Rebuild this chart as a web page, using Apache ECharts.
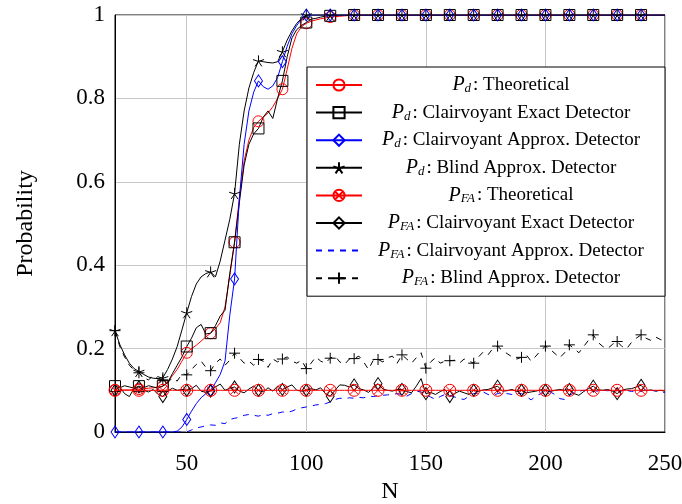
<!DOCTYPE html>
<html><head><meta charset="utf-8">
<script src="https://cdn.jsdelivr.net/npm/echarts@6/dist/echarts.min.js"></script>
<style>html,body{margin:0;padding:0;background:#fff}#c{width:682px;height:504px}</style>
</head><body><div id="c"></div>
<script>
const N = [20,22,24,26,28,30,32,34,36,38,40,42,44,46,48,50,52,54,56,58,60,62,64,66,68,70,72,74,76,78,80,82,84,86,88,90,92,94,96,98,
100,102,104,106,108,110,112,114,116,118,120,122,124,126,128,130,132,134,136,138,140,142,144,146,148,150,152,154,156,158,
160,162,164,166,168,170,172,174,176,178,180,182,184,186,188,190,192,194,196,198,200,202,204,206,208,210,212,214,216,218,
220,222,224,226,228,230,232,234,236,238,240,242,244,246,248,250];

const pdTheo = [0.100,0.100,0.101,0.101,0.102,0.103,0.104,0.105,0.106,0.108,
0.110,0.120,0.135,0.150,0.170,0.190,0.200,0.208,0.218,0.228,
0.237,0.248,0.262,0.300,0.375,0.455,0.560,0.650,0.700,0.730,
0.745,0.755,0.765,0.780,0.800,0.822,0.870,0.920,0.955,0.972,
0.980,0.985,0.988,0.991,0.993,0.995,0.996,0.997,0.998,0.999,
1,1,1,1,1,1,1,1,1,1, 1,1,1,1,1,1,1,1,1,1, 1,1,1,1,1,1,1,1,1,1,
1,1,1,1,1,1,1,1,1,1, 1,1,1,1,1,1,1,1,1,1, 1,1,1,1,1,1,1,1,1,1, 1,1,1,1,1,1];

const pdExact = [0.110,0.106,0.111,0.108,0.105,0.110,0.106,0.111,0.108,0.105,
0.110,0.118,0.140,0.160,0.180,0.205,0.225,0.250,0.258,0.235,
0.237,0.255,0.278,0.292,0.380,0.455,0.550,0.640,0.690,0.715,
0.728,0.755,0.770,0.752,0.800,0.842,0.900,0.945,0.965,0.975,
0.982,0.990,0.992,0.995,0.997,0.998,0.999,1,1,1,
1,1,1,1,1,1,1,1,1,1, 1,1,1,1,1,1,1,1,1,1, 1,1,1,1,1,1,1,1,1,1,
1,1,1,1,1,1,1,1,1,1, 1,1,1,1,1,1,1,1,1,1, 1,1,1,1,1,1,1,1,1,1, 1,1,1,1,1,1];

const pdApprox = [0,0,0,0,0,0,0,0,0,0,
0,0,0,0.002,0.012,0.030,0.050,0.068,0.082,0.092,
0.100,0.118,0.138,0.170,0.280,0.367,0.560,0.690,0.770,0.815,
0.842,0.828,0.822,0.830,0.850,0.888,0.925,0.955,0.975,0.990,
1,1,1,1,1,1,1,1,1,1,
1,1,1,1,1,1,1,1,1,1, 1,1,1,1,1,1,1,1,1,1, 1,1,1,1,1,1,1,1,1,1,
1,1,1,1,1,1,1,1,1,1, 1,1,1,1,1,1,1,1,1,1, 1,1,1,1,1,1,1,1,1,1, 1,1,1,1,1,1];

const pdBlind = [0.243,0.210,0.185,0.165,0.152,0.145,0.138,0.132,0.129,0.128,
0.130,0.150,0.175,0.205,0.245,0.286,0.325,0.355,0.372,0.380,
0.384,0.372,0.410,0.460,0.510,0.572,0.690,0.770,0.825,0.862,
0.890,0.888,0.886,0.885,0.888,0.912,0.940,0.962,0.980,0.992,
1,1,1,1,1,1,1,1,1,1,
1,1,1,1,1,1,1,1,1,1, 1,1,1,1,1,1,1,1,1,1, 1,1,1,1,1,1,1,1,1,1,
1,1,1,1,1,1,1,1,1,1, 1,1,1,1,1,1,1,1,1,1, 1,1,1,1,1,1,1,1,1,1, 1,1,1,1,1,1];

const pfaTheo = [0.1,0.1,0.1,0.1,0.1,0.1,0.1,0.1,0.1,0.1, 0.1,0.1,0.1,0.1,0.1,0.1,0.1,0.1,0.1,0.1,
0.1,0.1,0.1,0.1,0.1,0.1,0.1,0.1,0.1,0.1, 0.1,0.1,0.1,0.1,0.1,0.1,0.1,0.1,0.1,0.1,
0.1,0.1,0.1,0.1,0.1,0.1,0.1,0.1,0.1,0.1, 0.1,0.1,0.1,0.1,0.1,0.1,0.1,0.1,0.1,0.1,
0.1,0.1,0.1,0.1,0.1,0.1,0.1,0.1,0.1,0.1, 0.1,0.1,0.1,0.1,0.1,0.1,0.1,0.1,0.1,0.1,
0.1,0.1,0.1,0.1,0.1,0.1,0.1,0.1,0.1,0.1, 0.1,0.1,0.1,0.1,0.1,0.1,0.1,0.1,0.1,0.1,
0.1,0.1,0.1,0.1,0.1,0.1,0.1,0.1,0.1,0.1, 0.1,0.1,0.1,0.1,0.1,0.1];

const pfaExact = [0.100,0.108,0.092,0.085,0.105,0.108,0.100,0.096,0.102,0.090,
0.085,0.098,0.105,0.100,0.102,0.100,0.104,0.112,0.098,0.095,
0.098,0.108,0.115,0.100,0.105,0.108,0.098,0.094,0.103,0.110,
0.100,0.096,0.106,0.098,0.110,0.102,0.108,0.113,0.100,0.098,
0.100,0.104,0.101,0.106,0.092,0.086,0.100,0.113,0.112,0.108,
0.113,0.104,0.101,0.095,0.105,0.116,0.103,0.100,0.098,0.102,
0.102,0.097,0.094,0.110,0.128,0.092,0.095,0.090,0.097,0.102,
0.085,0.092,0.098,0.094,0.090,0.100,0.097,0.101,0.102,0.106,
0.110,0.098,0.099,0.102,0.097,0.100,0.094,0.096,0.098,0.101,
0.100,0.097,0.100,0.102,0.100,0.102,0.092,0.088,0.097,0.104,
0.110,0.101,0.100,0.102,0.098,0.092,0.100,0.103,0.104,0.108,
0.112,0.099,0.101,0.098,0.100,0.098];

const pfaApprox = [0,0,0,0,0,0,0,0,0,0,
0,0,0,0,0,0,0.005,0.010,0.012,0.015,
0.017,0.016,0.022,0.020,0.030,0.033,0.035,0.040,0.042,0.040,
0.038,0.042,0.040,0.044,0.045,0.048,0.047,0.050,0.055,0.058,
0.060,0.062,0.065,0.066,0.068,0.072,0.078,0.081,0.080,0.082,
0.081,0.083,0.082,0.086,0.085,0.087,0.088,0.089,0.090,0.092,
0.090,0.086,0.092,0.098,0.096,0.090,0.084,0.078,0.085,0.090,
0.088,0.084,0.080,0.078,0.086,0.092,0.094,0.096,0.090,0.088,
0.092,0.095,0.092,0.090,0.094,0.092,0.085,0.077,0.086,0.092,
0.100,0.096,0.090,0.080,0.078,0.088,0.094,0.098,0.100,0.100,
0.099,0.098,0.100,0.099,0.100,0.101,0.098,0.100,0.097,0.099,
0.098,0.101,0.100,0.099,0.096,0.095];

const pfaBlind = [0.243,0.205,0.180,0.160,0.148,0.142,0.130,0.125,0.135,0.128,
0.125,0.118,0.130,0.122,0.140,0.137,0.150,0.162,0.170,0.155,
0.147,0.165,0.175,0.160,0.172,0.189,0.178,0.165,0.170,0.160,
0.174,0.170,0.155,0.175,0.168,0.175,0.180,0.170,0.165,0.172,
0.152,0.165,0.180,0.170,0.165,0.177,0.182,0.168,0.162,0.175,
0.176,0.182,0.168,0.150,0.172,0.174,0.168,0.178,0.182,0.165,
0.185,0.175,0.165,0.178,0.190,0.153,0.168,0.178,0.165,0.170,
0.171,0.172,0.165,0.175,0.170,0.165,0.180,0.192,0.185,0.200,
0.206,0.195,0.188,0.180,0.175,0.179,0.185,0.170,0.182,0.195,
0.206,0.198,0.188,0.178,0.190,0.209,0.200,0.190,0.205,0.220,
0.233,0.215,0.205,0.200,0.210,0.217,0.205,0.200,0.215,0.225,
0.233,0.225,0.220,0.228,0.222,0.218];

const xTickValues = [50,100,150,200,250];
const seriesNames = ['Pd: Theoretical','Pd: Clairvoyant Exact Detector','Pd: Clairvoyant Approx. Detector','Pd: Blind Approx. Detector',
  'PFA: Theoretical','PFA: Clairvoyant Exact Detector','PFA: Clairvoyant Approx. Detector','PFA: Blind Approx. Detector'];
const legendSub = ['d','d','d','d','FA','FA','FA','FA'];
const legendText = [': Theoretical',': Clairvoyant Exact Detector',': Clairvoyant Approx. Detector',': Blind Approx. Detector',
  ': Theoretical',': Clairvoyant Exact Detector',': Clairvoyant Approx. Detector',': Blind Approx. Detector'];

const SERIF = '"Liberation Serif","DejaVu Serif",serif';
const STAR = 'path://M0,0L0,-10M0,0L9.51,-3.09M0,0L5.88,8.09M0,0L-5.88,8.09M0,0L-9.51,-3.09';
const PLUS = 'path://M-10,0L10,0M0,-10L0,10';
const OTIMES = 'path://M-10,0A10,10,0,1,1,10,0A10,10,0,1,1,-10,0ZM-7.07,-7.07L7.07,7.07M-7.07,7.07L7.07,-7.07';
const CLEAR = 'rgba(0,0,0,0)';

function mk(arr) {
  return N.map((n, i) => {
    const it = { value: [n, arr[i]] };
    if (!(n % 10 === 0 && n <= 240)) it.symbol = 'none';
    return it;
  });
}
function ser(name, arr, color, symbol, size, dash, z) {
  return {
    name, type: 'line', data: mk(arr), symbol, symbolSize: size, z,
    lineStyle: { color, width: 1, type: dash || 'solid' },
    itemStyle: { color: CLEAR, borderColor: color, borderWidth: 1 },
    emphasis: { disabled: true }, silent: true, animation: false
  };
}

const series = [
  ser(seriesNames[0], pdTheo, '#ff0000', 'circle', 11, null, 3),
  ser(seriesNames[1], pdExact, '#000000', 'rect', 11, null, 3),
  ser(seriesNames[2], pdApprox, '#0000ff', 'diamond', [8, 12], null, 3),
  ser(seriesNames[3], pdBlind, '#000000', STAR, 11, null, 3),
  ser(seriesNames[4], pfaTheo, '#ff0000', OTIMES, 12, null, 4),
  ser(seriesNames[5], pfaExact, '#000000', 'diamond', [8, 12], null, 3),
  ser(seriesNames[6], pfaApprox, '#0000ff', 'circle', 1, [6, 6], 3),
  ser(seriesNames[7], pfaBlind, '#000000', PLUS, 11, [6, 6], 3)
];
series[6].showSymbol = false;
series[6].itemStyle = { color: CLEAR, borderColor: CLEAR, borderWidth: 0 };

const chart = echarts.init(document.getElementById('c'), null, { renderer: 'canvas' });
chart.setOption({
  animation: false,
  backgroundColor: '#fff',
  grid: { left: 115, right: 17, top: 15, bottom: 72, show: true, borderColor: '#000', borderWidth: 1,
    backgroundColor: 'transparent', containLabel: false, outerBoundsMode: 'none' },
  xAxis: {
    type: 'value', min: 20, max: 250,
    name: 'N', nameLocation: 'middle', nameGap: 46,
    nameTextStyle: { fontFamily: SERIF, fontSize: 24, color: '#000' },
    axisLine: { show: true, lineStyle: { color: '#000', width: 1 } },
    axisTick: { show: false, customValues: xTickValues },
    axisLabel: { customValues: xTickValues, fontFamily: SERIF, fontSize: 23, color: '#000', margin: 20 },
    splitLine: { show: true, lineStyle: { color: '#c8c8c8', width: 1 } }
  },
  yAxis: {
    type: 'value', min: 0, max: 1, interval: 0.2,
    name: 'Probability', nameLocation: 'middle', nameGap: 77, nameRotate: 90,
    nameTextStyle: { fontFamily: SERIF, fontSize: 24, color: '#000' },
    axisLine: { show: true, lineStyle: { color: '#000', width: 1 } },
    axisTick: { show: false },
    axisLabel: { fontFamily: SERIF, fontSize: 23, color: '#000', margin: 10, formatter: v => String(+v.toFixed(1)) },
    splitLine: { show: true, lineStyle: { color: '#c8c8c8', width: 1 } }
  },
  legend: {
    orient: 'vertical', left: 307, top: 67,
    padding: [8, 10, 8, 8], itemGap: 7.6, itemWidth: 46, itemHeight: 14,
    backgroundColor: '#fff', borderColor: '#000', borderWidth: 1, borderRadius: 0,
    selectedMode: false, data: seriesNames,
    formatter: name => {
      const i = seriesNames.indexOf(name);
      return '{p|P}{s|' + legendSub[i] + '}{t|' + legendText[i] + '}';
    },
    textStyle: {
      width: 288, lineHeight: 20, color: '#000', fontFamily: SERIF, fontSize: 19,
      rich: {
        p: { fontFamily: SERIF, fontStyle: 'italic', fontSize: 20, color: '#000', align: 'center', lineHeight: 20 },
        s: { fontFamily: SERIF, fontStyle: 'italic', fontSize: 13, color: '#000', align: 'center', verticalAlign: 'bottom', lineHeight: 13, padding: [7, 2, 0, 0] },
        t: { fontFamily: SERIF, fontSize: 19, color: '#000', align: 'center', lineHeight: 20 }
      }
    }
  },
  series
});
</script></body></html>
